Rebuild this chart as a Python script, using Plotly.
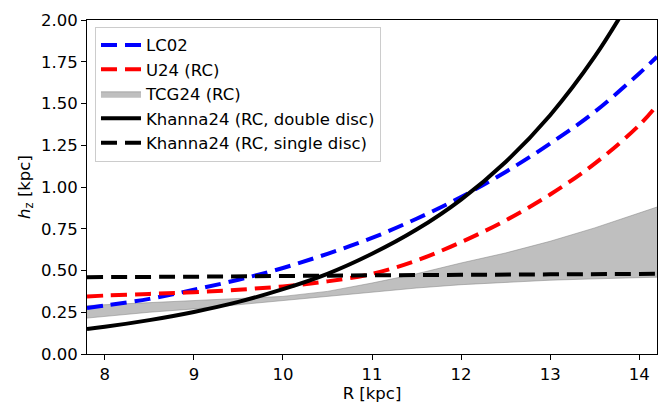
import plotly.graph_objects as go

R_lc02 = [7.8, 8.0, 8.5, 9.0, 9.5, 10.0, 10.5, 11.0, 11.5, 12.0, 12.5, 13.0, 13.5, 14.0, 14.2]
hz_lc02 = [0.275, 0.29, 0.33, 0.385, 0.445, 0.515, 0.60, 0.695, 0.81, 0.94, 1.09, 1.26, 1.45, 1.68, 1.78]

R_u24 = [7.8, 8.0, 8.5, 9.0, 9.5, 10.0, 10.5, 11.0, 11.5, 12.0, 12.5, 13.0, 13.5, 14.0, 14.2]
hz_u24 = [0.345, 0.35, 0.36, 0.37, 0.385, 0.405, 0.435, 0.48, 0.56, 0.67, 0.80, 0.955, 1.14, 1.37, 1.49]

R_tcg = [7.8, 8.0, 8.5, 9.0, 9.5, 10.0, 10.5, 11.0, 11.5, 12.0, 12.5, 13.0, 13.5, 14.0, 14.2]
hz_tcg_low = [0.215, 0.225, 0.25, 0.27, 0.295, 0.32, 0.345, 0.37, 0.395, 0.415, 0.43, 0.442, 0.45, 0.457, 0.46]
hz_tcg_high = [0.29, 0.295, 0.305, 0.318, 0.33, 0.345, 0.375, 0.425, 0.48, 0.545, 0.605, 0.675, 0.755, 0.845, 0.88]

R_k_double = [7.8, 8.0, 8.5, 9.0, 9.5, 10.0, 10.5, 11.0, 11.5, 12.0, 12.5, 13.0, 13.5, 14.0]
hz_k_double = [0.15, 0.163, 0.203, 0.252, 0.312, 0.388, 0.48, 0.60, 0.745, 0.925, 1.15, 1.43, 1.78, 2.21]

R_k_single = [7.8, 9.0, 10.0, 11.0, 12.0, 13.0, 14.2]
hz_k_single = [0.46, 0.463, 0.467, 0.471, 0.474, 0.477, 0.48]

x_ticks = [8, 9, 10, 11, 12, 13, 14]
y_ticks = [0.0, 0.25, 0.5, 0.75, 1.0, 1.25, 1.5, 1.75, 2.0]

FONT = "DejaVu Sans"
FS = 16.5
DASH = "16px,8px"
GRAY = "rgba(128,128,128,0.5)"

fig = go.Figure()

fig.add_trace(go.Scatter(x=R_tcg, y=hz_tcg_low, mode="lines", line=dict(color=GRAY, width=1),
                         showlegend=False, hoverinfo="skip"))
fig.add_trace(go.Scatter(x=R_tcg, y=hz_tcg_high, mode="lines", fill="tonexty", fillcolor=GRAY,
                         line=dict(color=GRAY, width=1), name="TCG24 (RC)", legendrank=3))
fig.add_trace(go.Scatter(x=R_lc02, y=hz_lc02, mode="lines", line=dict(color="blue", width=4, dash=DASH, shape="spline"),
                         name="LC02", legendrank=1))
fig.add_trace(go.Scatter(x=R_u24, y=hz_u24, mode="lines", line=dict(color="red", width=4, dash=DASH, shape="spline"),
                         name="U24 (RC)", legendrank=2))
fig.add_trace(go.Scatter(x=R_k_double, y=hz_k_double, mode="lines", line=dict(color="black", width=4, shape="spline"),
                         name="Khanna24 (RC, double disc)", legendrank=4))
fig.add_trace(go.Scatter(x=R_k_single, y=hz_k_single, mode="lines", line=dict(color="black", width=4, dash=DASH, shape="spline"),
                         name="Khanna24 (RC, single disc)", legendrank=5))

axis_common = dict(showline=True, mirror=True, linecolor="black", linewidth=1,
                   ticks="outside", ticklen=5, tickwidth=1, tickcolor="black",
                   showgrid=False, zeroline=False, automargin=False,
                   tickfont=dict(family=FONT, size=FS, color="black"))

fig.update_xaxes(range=[7.8, 14.2], tickvals=x_ticks, ticktext=[str(v) for v in x_ticks],
                 title=dict(text="R [kpc]", font=dict(family=FONT, size=FS, color="black"), standoff=10),
                 **axis_common)
fig.update_yaxes(range=[0, 2], tickvals=y_ticks, ticktext=[f"{v:.2f}" for v in y_ticks],
                 title=dict(text="<i>h</i><sub>z</sub> [kpc]", font=dict(family=FONT, size=FS, color="black"), standoff=6),
                 **axis_common)

fig.update_layout(
    width=660, height=403,
    margin=dict(l=87, r=3, t=20, b=49),
    plot_bgcolor="white", paper_bgcolor="white",
    font=dict(family=FONT, size=FS, color="black"),
    legend=dict(x=0.014, y=0.98, xanchor="left", yanchor="top",
                bgcolor="rgba(255,255,255,0.8)", bordercolor="#cccccc", borderwidth=1,
                font=dict(family=FONT, size=FS, color="black"), itemwidth=40,
                traceorder="normal"),
)

fig.write_html("out.html")
